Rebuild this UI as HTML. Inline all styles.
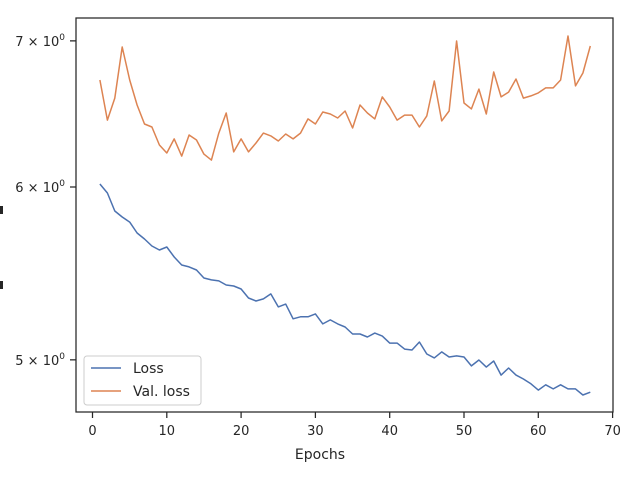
<!DOCTYPE html>
<html><head><meta charset="utf-8"><style>
body{margin:0;background:#fff;}
svg{display:block;font-family:"DejaVu Sans","Liberation Sans",sans-serif;}
</style></head><body>
<svg id="chart" width="640" height="480" viewBox="0 0 640 480">
<rect width="640" height="480" fill="#fff"/>
<g id="ticks"></g>
<g id="lines"></g>
<rect x="76" y="18" width="537" height="394" fill="none" stroke="#262626" stroke-width="1.25"/>
<text x="320" y="459" text-anchor="middle" font-size="14" fill="#262626">Epochs</text>
<rect x="0" y="206" width="3" height="8" fill="#262626"/>
<rect x="0" y="281" width="3" height="8" fill="#262626"/>
<g>
<rect x="84" y="356" width="117" height="49" rx="3" fill="#fff" fill-opacity="0.8" stroke="#ccc" stroke-width="1"/>
<line x1="91" y1="368" x2="121" y2="368" stroke="#4c72b0" stroke-width="1.5"/>
<text x="133" y="373" font-size="14" fill="#262626">Loss</text>
<line x1="91" y1="391" x2="121" y2="391" stroke="#dd8452" stroke-width="1.5"/>
<text x="133" y="396" font-size="14" fill="#262626">Val. loss</text>
</g>
</svg>
<script>
const epochs = Array.from({length:67},(_, i)=>i+1);
const lossValues = [6.019,5.962,5.850,5.813,5.782,5.716,5.680,5.638,5.614,5.632,5.573,5.526,5.515,5.497,5.451,5.440,5.434,5.411,5.405,5.388,5.337,5.320,5.332,5.360,5.287,5.303,5.221,5.232,5.232,5.248,5.193,5.215,5.193,5.176,5.138,5.138,5.122,5.143,5.127,5.089,5.089,5.057,5.052,5.095,5.031,5.010,5.042,5.015,5.021,5.015,4.968,4.999,4.962,4.994,4.920,4.957,4.920,4.900,4.875,4.843,4.870,4.849,4.870,4.849,4.849,4.818,4.832];
const valLossValues = [6.717,6.439,6.590,6.955,6.717,6.542,6.412,6.392,6.272,6.219,6.312,6.199,6.338,6.305,6.212,6.173,6.351,6.487,6.226,6.312,6.226,6.285,6.351,6.332,6.298,6.345,6.312,6.351,6.447,6.412,6.494,6.480,6.453,6.501,6.385,6.542,6.487,6.447,6.598,6.528,6.439,6.473,6.473,6.392,6.467,6.710,6.433,6.501,6.999,6.556,6.515,6.653,6.480,6.774,6.598,6.632,6.724,6.590,6.605,6.626,6.661,6.661,6.717,7.036,6.675,6.767,6.962];
const xTicks = [0,10,20,30,40,50,60,70];
const yTicks = [5,6,7];
const yTickLabels = ["5","6","7"];

const xs = v => 92.5 + 7.43*v;
const ys = v => 187 - 948*Math.log(v/6);
const NS = "http://www.w3.org/2000/svg";
const tg = document.getElementById('ticks');
const lg = document.getElementById('lines');
function mk(tag, attrs, parent){const e=document.createElementNS(NS,tag);for(const k in attrs)e.setAttribute(k,attrs[k]);parent.appendChild(e);return e;}
xTicks.forEach(t=>{
  const l = mk('line',{x1:xs(t),x2:xs(t),y1:412,y2:418,stroke:'#262626','stroke-width':1.25},tg);
  
  
  const tx = mk('text',{x:xs(t),y:435,'text-anchor':'middle','font-size':13,fill:'#262626'},tg);
  tx.textContent = t;
  
  
});
yTicks.forEach((t,i)=>{
  const y = ys(t);
  const l = mk('line',{x1:70,x2:76,y1:y,y2:y,stroke:'#262626','stroke-width':1.25},tg);
  
  
  const tx = mk('text',{x:65,y:y+5,'text-anchor':'end','font-size':13,fill:'#262626'},tg);
  tx.innerHTML = yTickLabels[i]+' × 10<tspan dy="-6" font-size="9">0</tspan>';
  
  
});
function series(vals,color,name){
  const d = vals.map((v,i)=>(i?'L':'M')+xs(epochs[i]).toFixed(1)+','+ys(v).toFixed(1)).join('');
  const p = mk('path',{d:d,fill:'none',stroke:color,'stroke-width':1.5,'stroke-linejoin':'round'},lg);
  
  
}
series(lossValues,'#4c72b0','loss-line');
series(valLossValues,'#dd8452','val-loss-line');
</script>
</body></html>
